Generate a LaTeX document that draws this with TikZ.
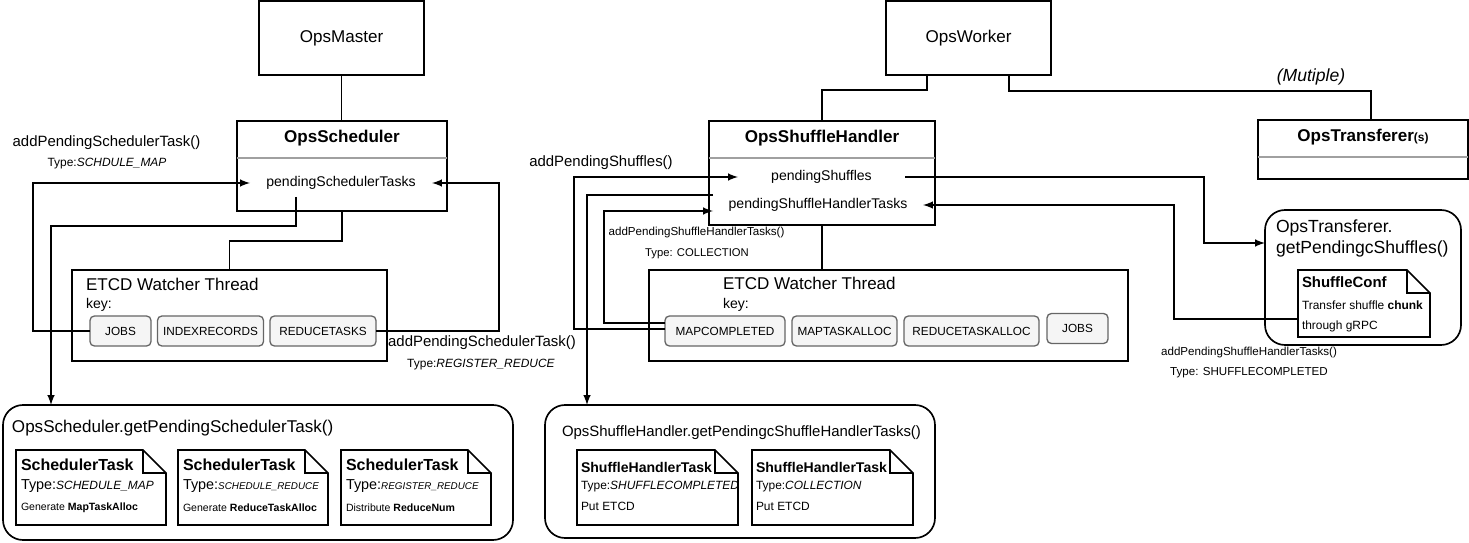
\documentclass[tikz,border=0pt]{standalone}
\usepackage{fontspec}
\setmainfont{Liberation Sans}
\usepackage{tikz}
\usetikzlibrary{calc}
\newcommand{\lMaster}{OpsMaster}
\newcommand{\lWorker}{OpsWorker}
\newcommand{\lScheduler}{OpsScheduler}
\newcommand{\lShuffleHandler}{OpsShuffleHandler}
\newcommand{\lTransferer}{OpsTransferer}
\newcommand{\lWatcher}{ETCD Watcher Thread}
\newcommand{\lKey}{key:}
\newcommand{\lAddSched}{addPendingSchedulerTask()}
\newcommand{\lAddShuffles}{addPendingShuffles()}
\newcommand{\lAddHandler}{addPendingShuffleHandlerTasks()}
\definecolor{keyFill}{RGB}{245, 245, 245}
\definecolor{keyLine}{RGB}{102, 102, 102}
\definecolor{sepLine}{RGB}{160, 160, 160}

\begin{document}
\begin{tikzpicture} [
        line width=0.95pt,
        every node/.style={inner sep=0pt, outer sep=0pt},
        txtbig/.style={font=\fontsize{9.7}{11.6}\selectfont},
        txtmid/.style={font=\fontsize{8.5}{10.2}\selectfont},
        txtfld/.style={font=\fontsize{8}{9.6}\selectfont},
        txtsmall/.style={font=\fontsize{6.6}{7.9}\selectfont},
        txttiny/.style={font=\fontsize{6.4}{7.7}\selectfont},
        objbox/.style={draw, txtbig, minimum width=3.3cm, minimum height=1.48cm},
        cls/.style={draw, minimum width=4.2cm},
        clstitle/.style={font=\bfseries\fontsize{9.7}{11.6}\selectfont},
        fld/.style={txtfld, minimum height=0.56cm},
        sepline/.style={draw=sepLine, line width=0.6pt},
        watcher/.style={draw, minimum height=1.82cm},
        keybox/.style={draw=keyLine, fill=keyFill, rounded corners=2.5pt, line width=0.75pt,
                       minimum height=0.6cm, font=\fontsize{6.7}{8}\selectfont},
        getbox/.style={draw, rounded corners=0.4cm},
        note/.style={minimum height=1.5cm, anchor=north west}
    ]

    \useasboundingbox (0,0) rectangle (29.38,-10.86);

    % master side
    \node[objbox] (master) at (6.83,-0.76) {\lMaster};
    \node[cls, minimum height=1.8cm] (sched) at (6.84,-3.32) {};
    \node[clstitle] (sched title) at (6.84,-2.76) {\lScheduler};
    \draw[sepline] ([yshift=-0.74cm]sched.north west) -- ([yshift=-0.74cm]sched.north east);
    \node[fld, minimum width=3.64cm] (sched pending) at (6.82,-3.66) {pendingSchedulerTasks};

    \node[watcher, minimum width=6.3cm] (etcd sched) at (4.59,-6.31) {};
    \node[txtbig, anchor=west] (etcd sched title) at (1.72,-5.68) {\lWatcher};
    \node[txtfld, anchor=west] (etcd sched key) at (1.72,-6.10) {\lKey};
    \foreach \n/\x/\w/\t in {jobs/2.41/1.22/JOBS, index/4.21/2.12/INDEXRECORDS, reduce/6.46/2.12/REDUCETASKS}
        \node[keybox, minimum width=\w cm] (sched key \n) at (\x,-6.62) {\t};

    \node[getbox, minimum width=10.2cm, minimum height=2.7cm] (sched get) at (5.16,-9.45) {};
    \node[txtbig, anchor=west] (sched get title) at (0.24,-8.56) {\lScheduler.getPendingSchedulerTask()};
    \foreach \k/\x/\tp/\d in {
            1/0.32/{\fontsize{6.8}{8}\selectfont SCHEDULE\_MAP}/{Generate \textbf{MapTaskAlloc}},
            2/3.56/{\fontsize{5.6}{7}\selectfont SCHEDULE\_REDUCE}/{Generate \textbf{ReduceTaskAlloc}},
            3/6.82/{\fontsize{5.6}{7}\selectfont REGISTER\_REDUCE}/{Distribute \textbf{ReduceNum}}} {
        \node[note, minimum width=3cm] (sched task \k) at (\x,-9) {};
        \node[anchor=west, font=\bfseries\fontsize{9.1}{11}\selectfont] (sched task \k\space name) at ([xshift=0.1cm, yshift=-0.3cm]sched task \k.north west) {SchedulerTask};
        \node[anchor=west, font=\fontsize{8.2}{9.8}\selectfont] (sched task \k\space type) at ([xshift=0.1cm, yshift=-0.72cm]sched task \k.north west) {Type:\textit{\tp}};
        \node[anchor=west, font=\fontsize{6}{7.2}\selectfont] (sched task \k\space desc) at ([xshift=0.1cm, yshift=-1.16cm]sched task \k.north west) {\d};
    }

    \draw (master.south) -- (master.south |- sched.north);
    \draw (sched.south) -- ++(0,-0.6) -| (etcd sched.north);
    \draw[-latex] (sched key jobs.west) -- ++(-1.14,0) |- (sched pending.west);
    \draw[-latex] (sched key reduce.east) -- ++(2.46,0) |- (sched pending.east);
    \draw[-latex] ([xshift=-0.9cm]sched pending.south) -- ++(0,-0.58) -| ([xshift=0.96cm]sched get.north west);

    \node[txtmid] (lab sched map) at (2.13,-2.86) {\lAddSched};
    \node[font=\fontsize{6.8}{8}\selectfont] (lab sched map type) at (2.14,-3.28) {Type:\textit{SCHDULE\_MAP}};
    \node[txtmid] (lab sched reduce) at (9.64,-6.86) {\lAddSched};
    \node[font=\fontsize{6.8}{8}\selectfont] (lab sched reduce type) at (9.62,-7.30) {Type:\textit{REGISTER\_REDUCE}};

    % worker side
    \node[objbox] (worker) at (19.37,-0.76) {\lWorker};
    \node[cls, minimum width=4.52cm, minimum height=2.08cm] (handler) at (16.44,-3.46) {};
    \node[clstitle] (handler title) at (16.44,-2.76) {\lShuffleHandler};
    \draw[sepline] ([yshift=-0.74cm]handler.north west) -- ([yshift=-0.74cm]handler.north east);
    \node[fld, minimum width=3.34cm, minimum height=0.4cm] (pend shuffles) at (16.43,-3.54) {pendingShuffles};
    \node[fld, minimum width=4.2cm, minimum height=0.4cm] (pend handler) at (16.36,-4.10) {pendingShuffleHandlerTasks};

    \node[cls, minimum height=1.18cm] (transferer) at (27.26,-2.99) {};
    \node[clstitle] (transferer title) at (27.26,-2.74) {\lTransferer{\fontsize{6.8}{8}\selectfont(s)}};
    \draw[sepline] ([yshift=-0.74cm]transferer.north west) -- ([yshift=-0.74cm]transferer.north east);
    \node[txtbig, font=\itshape] (multiple) at (26.22,-1.54) {(Mutiple)};

    \node[watcher, minimum width=9.58cm] (etcd handler) at (17.77,-6.31) {};
    \node[txtbig, anchor=west] (etcd handler title) at (14.46,-5.66) {\lWatcher};
    \node[txtfld, anchor=west] (etcd handler key) at (14.46,-6.10) {\lKey};
    \foreach \n/\x/\y/\w/\t in {mapc/14.5/-6.62/2.4/MAPCOMPLETED, mapalloc/16.89/-6.62/2.1/MAPTASKALLOC,
            redalloc/19.43/-6.62/2.7/REDUCETASKALLOC, jobs/21.55/-6.57/1.22/JOBS}
        \node[keybox, minimum width=\w cm] (handler key \n) at (\x,\y) {\t};

    \node[getbox, minimum width=7.8cm, minimum height=2.66cm] (handler get) at (14.8,-9.43) {};
    \node[txtmid, anchor=west] (handler get title) at (11.24,-8.66) {\lShuffleHandler.getPendingcShuffleHandlerTasks()};
    \foreach \k/\x/\tp in {1/11.54/SHUFFLECOMPLETED, 2/15.04/COLLECTION} {
        \node[note, minimum width=3.22cm] (handler task \k) at (\x,-9) {};
        \node[anchor=west, font=\bfseries\fontsize{8}{9.6}\selectfont] (handler task \k\space name) at ([xshift=0.08cm, yshift=-0.34cm]handler task \k.north west) {ShuffleHandlerTask};
        \node[anchor=west, font=\fontsize{6.8}{8.2}\selectfont] (handler task \k\space type) at ([xshift=0.08cm, yshift=-0.74cm]handler task \k.north west) {Type:\textit{\tp}};
        \node[anchor=west, font=\fontsize{6.8}{8.2}\selectfont] (handler task \k\space desc) at ([xshift=0.08cm, yshift=-1.12cm]handler task \k.north west) {Put ETCD};
    }

    \node[getbox, minimum width=3.92cm, minimum height=2.7cm] (transfer get) at (27.26,-5.55) {};
    \node[anchor=west, align=left, font=\fontsize{10}{12}\selectfont] (transfer get title) at (25.52,-4.77) {\lTransferer.\\getPendingcShuffles()};
    \node[note, minimum width=2.64cm, minimum height=1.34cm] (shuffle conf) at (25.96,-5.4) {};
    \node[anchor=west, font=\bfseries\fontsize{8.5}{10.2}\selectfont] (shuffle conf name) at ([xshift=0.08cm, yshift=-0.24cm]shuffle conf.north west) {ShuffleConf};
    \node[anchor=west, font=\fontsize{6.8}{8.2}\selectfont] (shuffle conf line1) at ([xshift=0.08cm, yshift=-0.7cm]shuffle conf.north west) {Transfer shuffle \textbf{chunk}};
    \node[anchor=west, font=\fontsize{6.8}{8.2}\selectfont] (shuffle conf line2) at ([xshift=0.08cm, yshift=-1.12cm]shuffle conf.north west) {through gRPC};

    \draw ([xshift=-0.83cm]worker.south) -- ++(0,-0.3) -| (handler.north);
    \draw ([xshift=0.81cm]worker.south) -- ++(0,-0.32) -| ([xshift=0.16cm]transferer.north);
    \draw (handler.south) -- (handler.south |- etcd handler.north);
    \draw[-latex] ([yshift=0.04cm]handler key mapc.west) -- ++(-1.82,0) |- (pend shuffles.west);
    \draw[-latex] ([yshift=0.16cm]handler key mapc.west) -- ++(-1.22,0) |- ([yshift=-0.12cm]pend handler.west);
    \draw[-latex] (pend handler.north west) -| ([xshift=0.84cm]handler get.north west);
    \draw[-latex] (pend shuffles.east) -- ++(5.98,0) |- ([yshift=0.69cm]transfer get.west);
    \draw[-latex] ([yshift=-0.31cm]shuffle conf.west) -- ++(-2.48,0) |- (pend handler.east);

    \node[txtmid] (lab shuffles) at (12.02,-3.26) {\lAddShuffles};
    \node[txtsmall] (lab collection) at (13.93,-4.66) {\lAddHandler};
    \node[txttiny] (lab collection type) at (13.94,-5.08) {Type: COLLECTION};
    \node[txtsmall] (lab completed) at (24.98,-7.06) {\lAddHandler};
    \node[txtsmall] (lab completed type) at (24.98,-7.46) {Type: SHUFFLECOMPLETED};

    \foreach \n in {sched task 1, sched task 2, sched task 3, handler task 1, handler task 2, shuffle conf} {
        \draw (\n.south west) -- (\n.north west) -- ([xshift=-0.46cm]\n.north east)
            -- ([yshift=-0.46cm]\n.north east) -- (\n.south east) -- cycle;
        \draw ([xshift=-0.46cm]\n.north east) -- ++(0,-0.46) -- ([yshift=-0.46cm]\n.north east);
    }

\end{tikzpicture}
\end{document}
